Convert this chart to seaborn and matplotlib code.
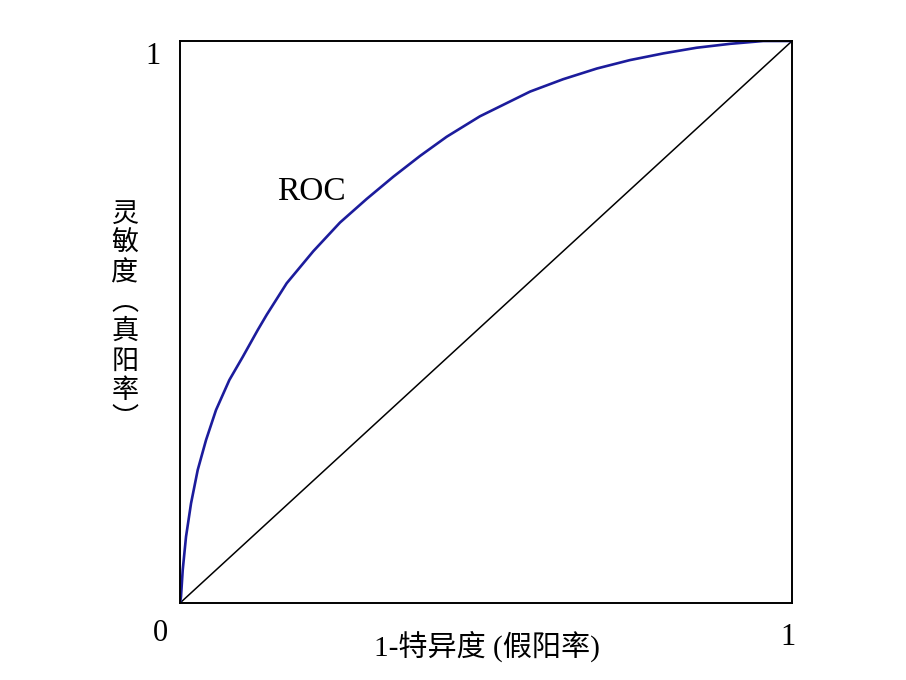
import pandas as pd
import matplotlib
matplotlib.use("Agg")
import matplotlib.pyplot as plt
import seaborn as sns

# ============================================================
# DATA
# ============================================================
fpr = [0.0, 0.0016, 0.0044, 0.0098, 0.018, 0.0289, 0.0425, 0.0588, 0.0806, 0.1025,
       0.127, 0.1417, 0.1743, 0.2178, 0.2614, 0.305, 0.3485, 0.3922, 0.4358, 0.49,
       0.572, 0.626, 0.681, 0.735, 0.790, 0.844, 0.899, 0.953, 1.0]
tpr = [0.0, 0.0112, 0.0587, 0.118, 0.1774, 0.2367, 0.290, 0.3434, 0.3968, 0.438,
       0.4858, 0.513, 0.569, 0.626, 0.677, 0.719, 0.7585, 0.7955, 0.8297, 0.866,
       0.910, 0.932, 0.951, 0.966, 0.978, 0.988, 0.995, 1.0, 1.0]
diag_x = [0.0, 1.0]
diag_y = [0.0, 1.0]

y_label_chars = ["灵", "敏", "度", "︵", "真", "阳", "率", "︶"]
x_label = "1-特异度 (假阳率)"
curve_label = "ROC"

# ============================================================
# STYLE
# ============================================================
sns.set_theme(style="white")
plt.rcParams["font.family"] = ["Liberation Serif", "Noto Sans CJK SC", "DejaVu Sans"]
plt.rcParams["text.color"] = "black"

df_roc = pd.DataFrame({"fpr": fpr, "tpr": tpr})
df_diag = pd.DataFrame({"x": diag_x, "y": diag_y})

fig = plt.figure(figsize=(9.06, 6.8), dpi=100)
ax = fig.add_axes([0.1987, 0.1132, 0.6755, 0.8265])

sns.lineplot(data=df_diag, x="x", y="y", ax=ax, color="black", linewidth=1.1, sort=False)
sns.lineplot(data=df_roc, x="fpr", y="tpr", ax=ax, color="#1c1c9c", linewidth=1.9,
             sort=False, solid_joinstyle="round")

ax.set_xlim(0, 1)
ax.set_ylim(0, 1)
ax.set_xticks([])
ax.set_yticks([])
ax.set_xlabel("")
ax.set_ylabel("")
for sp in ax.spines.values():
    sp.set_color("black")
    sp.set_linewidth(1.4)

# axis end labels
ax.text(-0.032, -0.055, "0", transform=ax.transAxes, fontsize=22, ha="center", va="center")
ax.text(0.994, -0.062, "1", transform=ax.transAxes, fontsize=22, ha="center", va="center")
ax.text(-0.044, 0.972, "1", transform=ax.transAxes, fontsize=22, ha="center", va="center")

ax.text(0.215, 0.732, curve_label, transform=ax.transAxes, fontsize=24, ha="center", va="center")

# x label
fig.text(0.537, 1 - 646 / 680, x_label, fontsize=21, ha="center", va="center",
         family=["Liberation Serif", "Noto Sans CJK SC"])

# vertical y label, one char per line
fig.text(125 / 906, 1 - 317 / 680, "\n".join(y_label_chars), fontsize=19.5,
         ha="center", va="center", linespacing=1.11, family=["Noto Sans CJK SC"])

fig.savefig("out.png", dpi=100, facecolor="white")
